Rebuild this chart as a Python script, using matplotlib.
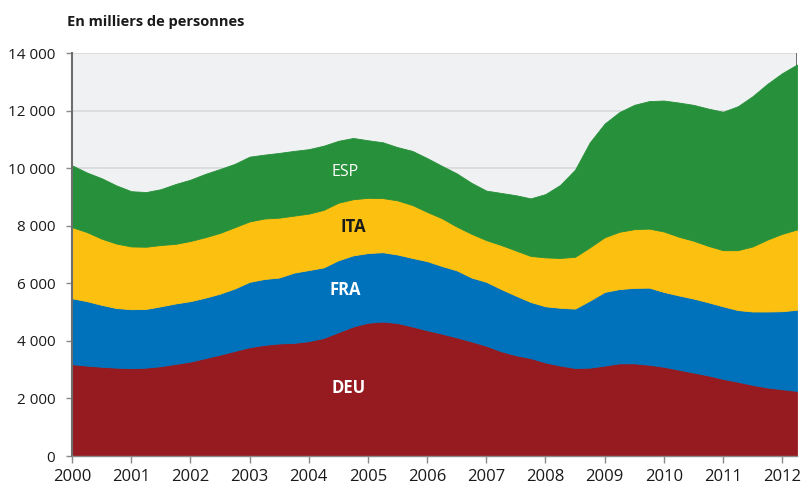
import numpy as np
import matplotlib.pyplot as plt
from matplotlib.ticker import FuncFormatter

# quarterly data, thousands of persons
quarters = 2000 + np.arange(50) * 0.25

deu = [3190, 3140, 3100, 3070, 3050, 3070, 3120, 3200, 3280, 3400,
       3520, 3650, 3780, 3860, 3910, 3930, 3990, 4100, 4300, 4500,
       4630, 4670, 4620, 4500, 4370, 4250, 4120, 3980, 3830, 3640,
       3500, 3400, 3250, 3140, 3060, 3070, 3140, 3220, 3220, 3170,
       3100, 3000, 2900, 2800, 2680, 2580, 2470, 2380, 2320, 2260]
fra = [2290, 2240, 2150, 2070, 2050, 2040, 2080, 2100, 2100, 2100,
       2120, 2170, 2270, 2290, 2290, 2440, 2470, 2450, 2500, 2470,
       2420, 2410, 2380, 2380, 2400, 2350, 2330, 2220, 2220, 2160,
       2070, 1950, 1950, 2010, 2060, 2330, 2560, 2580, 2620, 2680,
       2600, 2580, 2570, 2540, 2520, 2490, 2550, 2640, 2710, 2820]
ita = [2470, 2400, 2300, 2240, 2180, 2160, 2130, 2070, 2090, 2100,
       2110, 2130, 2100, 2100, 2080, 1980, 1960, 2000, 2000, 1950,
       1920, 1880, 1880, 1840, 1710, 1660, 1520, 1520, 1450, 1530,
       1570, 1600, 1700, 1730, 1800, 1850, 1900, 1990, 2040, 2050,
       2100, 2040, 2010, 1960, 1950, 2080, 2260, 2500, 2690, 2790]
esp = [2150, 2070, 2100, 2020, 1920, 1900, 1940, 2080, 2130, 2200,
       2220, 2200, 2250, 2220, 2250, 2250, 2240, 2230, 2150, 2130,
       2000, 1940, 1850, 1880, 1870, 1820, 1850, 1770, 1720, 1810,
       1920, 2000, 2200, 2540, 3030, 3650, 3950, 4160, 4320, 4430,
       4550, 4660, 4720, 4770, 4810, 5000, 5220, 5410, 5580, 5730]

countries = ["DEU", "FRA", "ITA", "ESP"]
colors = ["#961b20", "#0072bb", "#fcc010", "#27903a"]
years = list(range(2000, 2013))

plt.rcParams['font.family'] = ['Open Sans', 'DejaVu Sans']

fig = plt.figure(figsize=(8.03, 4.86), dpi=100)
ax = fig.add_axes([0.0897, 0.0617, 0.9028, 0.8292])
ax.set_facecolor("#f0f1f3")

polys = ax.stackplot(quarters, deu, fra, ita, esp, colors=colors,
                     labels=countries, zorder=2)
for p, c in zip(polys, colors):
    p.set_edgecolor(c)
    p.set_linewidth(0.6)

ax.set_xlim(2000, 2012.25)
ax.set_ylim(0, 14000)
ax.set_xticks(years)
ax.set_yticks(range(0, 14001, 2000))
ax.yaxis.set_major_formatter(FuncFormatter(lambda v, p: f"{int(v):,}".replace(",", " ")))
ax.grid(axis='y', color="#d8d9dc", linewidth=1.2, zorder=0)
ax.set_axisbelow(True)

for s in ["top", "right"]:
    ax.spines[s].set_visible(False)
ax.spines["left"].set_color("#6e6e6e")
ax.spines["left"].set_linewidth(1.5)
ax.spines["bottom"].set_color("#8a8a8a")
ax.spines["bottom"].set_linewidth(1.0)
ax.axvline(2012.25, color="#555555", linewidth=1.2, zorder=1)

ax.tick_params(axis='y', length=4, width=1, color="#8a8a8a", pad=8,
               labelsize=11, labelcolor="#1a1a1a")
ax.tick_params(axis='x', length=5, width=1, color="#8a8a8a", pad=4,
               labelsize=12, labelcolor="#1a1a1a")

# series labels
ax.text(2004.62, 9850, "ESP", color="white", fontsize=11.5, ha='center', va='center')
ax.text(2004.75, 7950, "ITA", color="#1a1a1a", fontsize=12, fontweight='bold',
        ha='center', va='center')
ax.text(2004.62, 5750, "FRA", color="white", fontsize=12, fontweight='bold',
        ha='center', va='center')
ax.text(2004.68, 2350, "DEU", color="white", fontsize=12, fontweight='bold',
        ha='center', va='center')

fig.text(0.083, 0.955, "En milliers de personnes", fontsize=10.5, fontweight='bold',
         color="#1a1a1a", ha='left', va='center')

fig.savefig("out.png", dpi=100)
